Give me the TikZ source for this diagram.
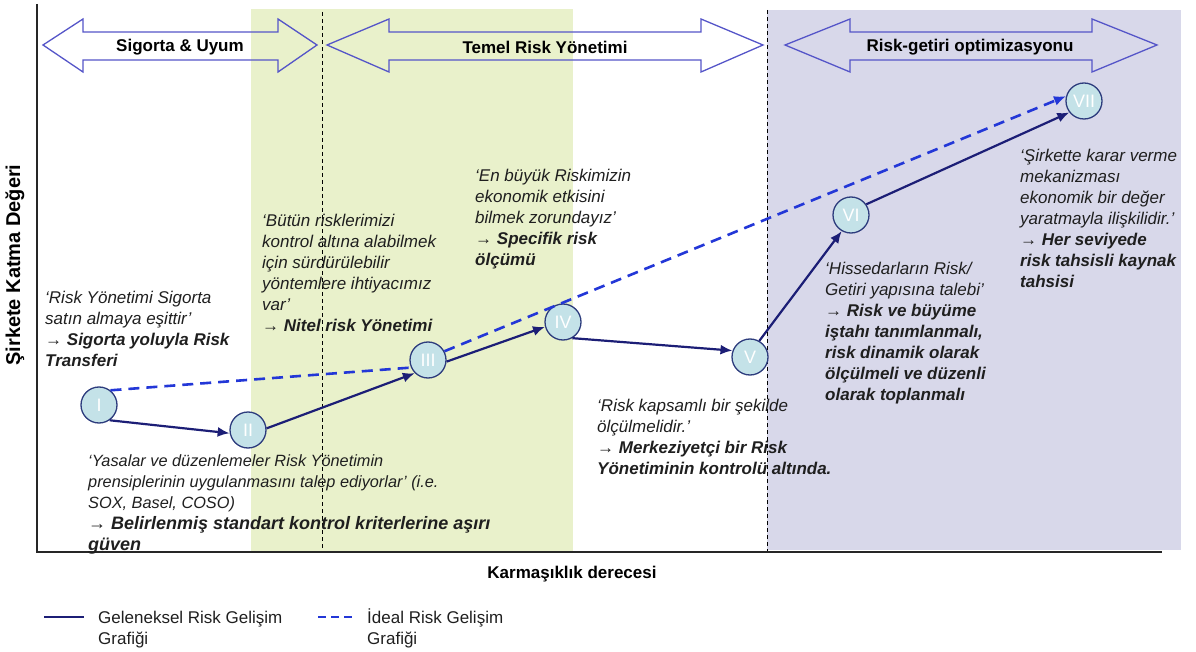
\documentclass[tikz,border=0pt]{standalone}
\usepackage{fontspec}
\setmainfont{Liberation Sans}
\usetikzlibrary{arrows.meta}
\definecolor{navy}{RGB}{28,30,118}
\definecolor{idealblue}{RGB}{35,55,215}
\definecolor{bandblue}{RGB}{85,85,200}
\definecolor{zonegreen}{RGB}{233,241,203}
\definecolor{zonepurple}{RGB}{216,216,234}
\definecolor{stagefill}{RGB}{196,226,232}
\definecolor{stageedge}{RGB}{45,60,125}
\newcommand{\fl}{\rule{0pt}{15pt}}
\begin{document}
\begin{tikzpicture}[x=1pt,y=-1pt,
  stage/.style={circle, draw=stageedge, line width=1.3pt, fill=stagefill,
    minimum size=36pt, inner sep=0pt, text=white, font=\fontsize{18}{18}\selectfont},
  trad/.style={draw=navy, line width=2.2pt, -{Latex[length=12pt,width=10pt]}},
  ideal/.style={draw=idealblue, line width=2.6pt, dash pattern=on 11pt off 7pt},
  note/.style={anchor=north west, align=left, inner sep=0pt, text=black!88,
    font=\fontsize{17}{21}\selectfont\itshape},
  legendtext/.style={anchor=north west, align=left, inner sep=0pt, text=black!88,
    font=\fontsize{17}{21}\selectfont},
  bandlabel/.style={font=\fontsize{17}{17}\selectfont\bfseries, inner sep=0pt},
  band/.style={draw=bandblue, line width=1.3pt, line join=miter},
  zoneline/.style={draw=black, line width=0.9pt, dash pattern=on 4pt off 3pt},
  axislabel/.style={font=\fontsize{17}{17}\selectfont\bfseries, inner sep=0pt}
]
\useasboundingbox (0,0) rectangle (1196,652);

% shaded zones and their dashed borders
\fill[zonegreen] (251,9) rectangle (573,552);
\fill[zonepurple] (767,10) rectangle (1181,550);
\draw[zoneline] (322,12) -- (322,552);
\draw[zoneline] (767,10) -- (767,552);

% axes
\draw[line width=1.2pt, black!85] (37,4) -- (37,552) -- (1162,552);
\node[axislabel, font=\fontsize{20}{20}\selectfont\bfseries, rotate=90] (ylab) at (15,265) {Şirkete Katma Değeri};
\node[axislabel] (xlab) at (572,574) {Karmaşıklık derecesi};

% phase bands (double-headed outline arrows)
\draw[band] (43,45) -- (83,19) -- (83,32) -- (278,32) -- (278,19) -- (317,45)
  -- (278,72) -- (278,60) -- (83,60) -- (83,72) -- cycle;
\node[bandlabel] (b1) at (180,47) {Sigorta \& Uyum};
\draw[band] (327,45) -- (389,19) -- (389,32) -- (701,32) -- (701,19) -- (763,45)
  -- (701,72) -- (701,60) -- (389,60) -- (389,72) -- cycle;
\node[bandlabel] (b2) at (545,47) {Temel Risk Yönetimi};
\draw[band] (785,45) -- (850,19) -- (850,32) -- (1092,32) -- (1092,19) -- (1157,45)
  -- (1092,72) -- (1092,60) -- (850,60) -- (850,72) -- cycle;
\node[bandlabel] (b3) at (970,47) {Risk-getiri optimizasyonu};

% notes
\node[note] (nA) at (45,288) {\fl‘Risk Yönetimi Sigorta\\satın almaya eşittir’\\
  {\upshape→} \textbf{Sigorta yoluyla Risk}\\\textbf{Transferi}};
\node[note] (nB) at (262,211) {\fl‘Bütün risklerimizi\\kontrol altına alabilmek\\
  için sürdürülebilir\\yöntemlere ihtiyacımız\\var’\\
  {\upshape→} \textbf{Nitel risk Yönetimi}};
\node[note] (nC) at (475,166) {\fl‘En büyük Riskimizin\\ekonomik etkisini\\
  bilmek zorundayız’\\{\upshape→} \textbf{Specifik risk}\\\textbf{ölçümü}};
\node[note, font=\fontsize{16.3}{21}\selectfont\itshape] (nD) at (88,451)
  {\fl‘Yasalar ve düzenlemeler Risk Yönetimin\\
  prensiplerinin uygulanmasını talep ediyorlar’ (i.e.\\SOX, Basel, COSO)\\
  {\fontsize{18}{21}\selectfont{\upshape→} \textbf{Belirlenmiş standart kontrol kriterlerine aşırı}}\\
  {\fontsize{18}{21}\selectfont\textbf{güven}}};
\node[note] (nE) at (597,396) {\fl‘Risk kapsamlı bir şekilde\\ölçülmelidir.’\\
  {\upshape→} \textbf{Merkeziyetçi bir Risk}\\\textbf{Yönetiminin kontrolü altında.}};
\node[note] (nF) at (825,259) {\fl‘Hissedarların Risk/\\Getiri yapısına talebi’\\
  {\upshape→} \textbf{Risk ve büyüme}\\\textbf{iştahı tanımlanmalı,}\\
  \textbf{risk dinamik olarak}\\\textbf{ölçülmeli ve düzenli}\\\textbf{olarak toplanmalı}};
\node[note] (nG) at (1020,146) {\fl‘Şirkette karar verme\\mekanizması\\
  ekonomik bir değer\\yaratmayla ilişkilidir.’\\
  {\upshape→} \textbf{Her seviyede}\\\textbf{risk tahsisli kaynak}\\\textbf{tahsisi}};

% stages
\node[stage] (s1) at (99,405) {I};
\node[stage] (s2) at (248,430) {II};
\node[stage] (s3) at (428,360) {III};
\node[stage] (s4) at (563,322) {IV};
\node[stage] (s5) at (750,357) {V};
\node[stage] (s6) at (851,215) {VI};
\node[stage] (s7) at (1084,101) {VII};

% traditional development path
\draw[trad] (s1.-55) -- (s2.190);
\draw[trad] (s2.5) -- (s3.225);
\draw[trad] (s3.-5) -- (s4.195);
\draw[trad] (s4.-60) -- (s5.160);
\draw[trad] (s5.60) -- (s6.240);
\draw[trad] (s6.35) -- (s7.218);

% ideal development path
\draw[ideal] (s1.52) -- (s3.204);
\draw[ideal, -{Latex[length=12pt,width=10pt]}] (s3.28) -- (s7.165);

% legend
\coordinate (la1) at (44,617);
\coordinate (la2) at (84,617);
\coordinate (lb1) at (318,617);
\coordinate (lb2) at (356,617);
\draw[draw=navy, line width=2.6pt] (la1) -- (la2);
\draw[draw=idealblue, line width=2.6pt, dash pattern=on 8pt off 5pt] (lb1) -- (lb2);
\node[legendtext] (lt1) at (98,608) {\fl Geleneksel Risk Gelişim\\Grafiği};
\node[legendtext] (lt2) at (367,608) {\fl İdeal Risk Gelişim\\Grafiği};
\end{tikzpicture}
\end{document}
